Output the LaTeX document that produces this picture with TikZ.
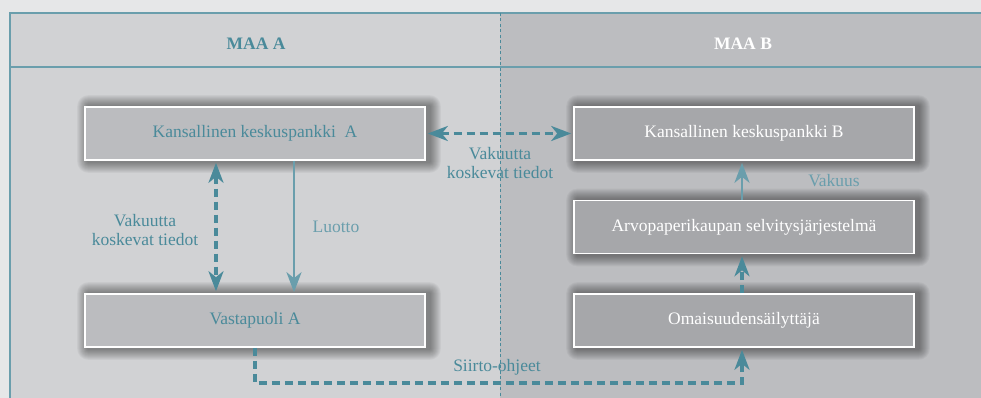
\documentclass[tikz,border=0pt]{standalone}
\usepackage{fontspec}
\setmainfont{Liberation Serif}
\usetikzlibrary{arrows.meta}
\definecolor{teal1}{HTML}{4A8A9A}
\definecolor{teal2}{HTML}{6A9EAC}
\definecolor{outerbg}{HTML}{E6E7E8}
\definecolor{leftbg}{HTML}{D1D2D4}
\definecolor{rightbg}{HTML}{BCBDC0}
\definecolor{leftbox}{HTML}{BBBCBF}
\definecolor{rightbox}{HTML}{A6A7AA}
\pgfdeclarelayer{bg}
\pgfsetlayers{bg,main}
\tikzset{
  txt/.style={font=\fontsize{17.5}{19}\selectfont, align=center, inner sep=0pt},
  boxbase/.style={draw=white, line width=1.6pt, minimum width=340pt, minimum height=53pt,
    inner sep=0pt, font=\fontsize{17.5}{19}\selectfont},
  lbox/.style={boxbase, fill=leftbox, text=teal1},
  rbox/.style={boxbase, fill=rightbox, text=white},
  dashconn/.style={draw=teal1, line width=3.2pt, dash pattern=on 8pt off 5pt},
  solidconn/.style={draw=teal2, line width=2.7pt},
  tip/.style={-{Stealth[length=20pt,width=15pt,inset=6pt]}},
  bitip/.style={{Stealth[length=20pt,width=15pt,inset=6pt]}-{Stealth[length=20pt,width=15pt,inset=6pt]}},
}
\newcommand{\boxshadow}[1]{%
  \foreach \r in {11,10,...,1}{%
    \fill[black, opacity=0.04, rounded corners=\r pt]
      ([shift={(-\r pt+4pt,\r pt)}]#1.north west) rectangle ([shift={(\r pt+4pt,-\r pt-1pt)}]#1.south east);
  }%
}
\begin{document}
\begin{tikzpicture}[x=1pt,y=-1pt]
\useasboundingbox (0,0) rectangle (981,398);

\node[txt, text=teal1, font=\fontsize{17.5}{19}\selectfont\bfseries] (hA) at (256,44) {MAA A};
\node[txt, text=white, font=\fontsize{17.5}{19}\selectfont\bfseries] (hB) at (743,44) {MAA B};

\node[lbox] (KA) at (255,133.5) {Kansallinen keskuspankki\ \ A};
\node[lbox] (VA) at (255,320.5) {Vastapuoli A};
\node[rbox] (KB) at (744,133.5) {Kansallinen keskuspankki B};
\node[rbox] (AR) at (744,227) {Arvopaperikaupan selvitysjärjestelmä};
\node[rbox] (OM) at (744,320.5) {Omaisuudensäilyttäjä};

\begin{pgfonlayer}{bg}
\fill[outerbg] (0,0) rectangle (981,398);
\fill[leftbg] (10,13) rectangle (500,398);
\fill[rightbg] (500,13) rectangle (981,398);
\draw[teal2, line width=1.6pt] (10,398) -- (10,13) -- (981,13);
\draw[teal2, line width=1.6pt] (10,67) -- (981,67);
\boxshadow{KA}
\boxshadow{VA}
\boxshadow{KB}
\boxshadow{AR}
\boxshadow{OM}
\draw[teal1, line width=0.9pt, dash pattern=on 3pt off 2.5pt] (500,13) -- (500,398);
\end{pgfonlayer}

\coordinate (c1) at (VA.south |- 0,383);
\coordinate (c2) at (OM.south |- 0,383);

\draw[dashconn, bitip, shorten <=2pt, shorten >=2pt] (KA.east) -- (KB.west);
\draw[dashconn, bitip, shorten <=2pt, shorten >=2pt] ([xshift=-39pt]KA.south) -- ([xshift=-39pt]VA.north);
\draw[solidconn, tip, shorten >=1pt] ([xshift=39pt]KA.south) -- ([xshift=39pt]VA.north);
\draw[solidconn, tip, shorten >=2pt] ([xshift=-2pt]AR.north) -- ([xshift=-2pt]KB.south);
\draw[dashconn, tip, shorten >=2pt] ([xshift=-2pt]OM.north) -- ([xshift=-2pt]AR.south);
\draw[dashconn, tip, shorten >=2pt] (VA.south) -- (c1) -- ([xshift=-2pt]c2) -- ([xshift=-2pt]OM.south);

\node[txt, text=teal1] (l1) at (500,163) {Vakuutta\\koskevat tiedot};
\node[txt, text=teal1] (l2) at (145,230) {Vakuutta\\koskevat tiedot};
\node[txt, text=teal2] (l3) at (336,227) {Luotto};
\node[txt, text=teal2] (l4) at (834,181) {Vakuus};
\node[txt, text=teal1] (l5) at (497,367) {Siirto-ohjeet};
\end{tikzpicture}
\end{document}
